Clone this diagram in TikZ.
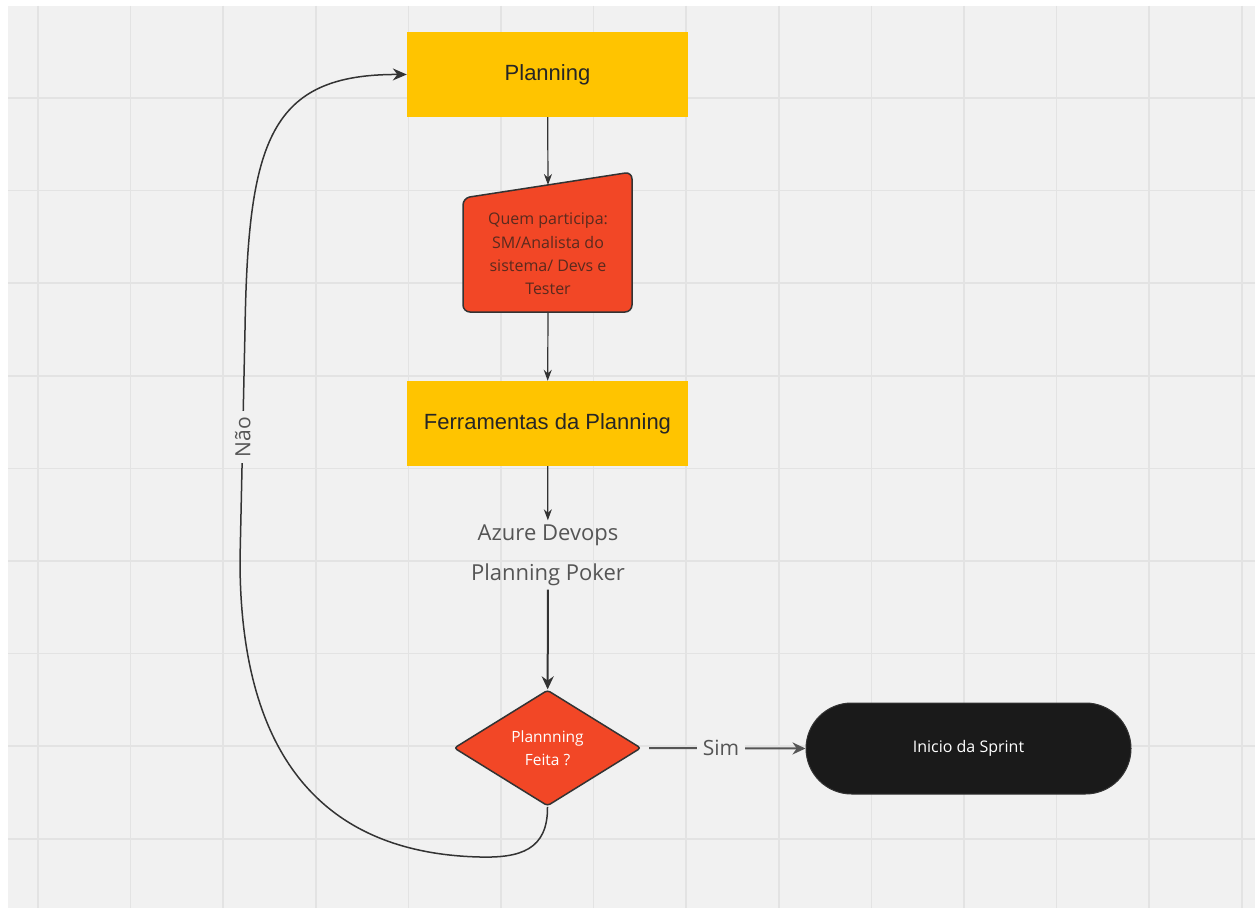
\documentclass[tikz,border=0pt]{standalone}
\usepackage{fontspec}
\setmainfont{Open Sans}
\newfontfamily\arialf{Liberation Sans}
\usetikzlibrary{arrows.meta,shapes.geometric}
\definecolor{bgc}{HTML}{F1F1F1}
\definecolor{gridc}{HTML}{E3E3E3}
\definecolor{gold}{HTML}{FFC400}
\definecolor{redo}{HTML}{F24726}
\definecolor{ink}{HTML}{333333}
\definecolor{greytxt}{HTML}{555555}
\definecolor{termc}{HTML}{1A1A1A}
\definecolor{brtxt}{HTML}{5A2A1E}
\tikzset{
  ybox/.style={rectangle, fill=gold, minimum width=281pt, minimum height=85pt, inner sep=0pt,
    font=\arialf\fontsize{22}{26}\selectfont, text=black!85},
  conn/.style={draw=ink, line width=1.2pt, -{Stealth[length=11pt,width=8pt]}},
  connb/.style={draw=ink, line width=2pt, -{Stealth[length=13pt,width=12pt]}},
  simc/.style={draw=greytxt, line width=2pt, -{Stealth[length=13pt,width=12pt]}},
  loopc/.style={draw=ink, line width=1.5pt, -{Stealth[length=14pt,width=12pt]}},
  lbl/.style={fill=bgc, text=greytxt, font=\fontsize{21}{24}\selectfont, inner sep=6pt},
}
\begin{document}
\begin{tikzpicture}[x=1pt,y=-1pt]
\useasboundingbox (0,0) rectangle (1255,909);
\fill[white] (0,0) rectangle (1255,909);
\fill[bgc] (8,6) rectangle (1255,908);
\foreach \i in {0,...,13} \draw[gridc,line width=1.5pt] ({38+92.6*\i},6) -- ({38+92.6*\i},908);
\foreach \j in {0,...,8} \draw[gridc,line width=1.5pt] (8,{98+92.6*\j}) -- (1255,{98+92.6*\j});

% nodes
\node[ybox] (plan) at (547.5,74.5) {Planning};

\filldraw[fill=redo, draw=ink, line width=1.5pt, rounded corners=7pt]
  (548,312) -- (463,312) -- (463,198) -- (632,172) -- (632,312) -- cycle;
\node[align=center, text=brtxt, font=\fontsize{16}{23.4}\selectfont] (who) at (548,254)
  {Quem participa:\\SM/Analista do\\sistema/ Devs e\\Tester};
\coordinate (whoTop) at (548,185);
\coordinate (whoBot) at (548,312);

\node[ybox] (ferr) at (547.5,423.5) {Ferramentas da Planning};

\node[align=center, text=greytxt, font=\fontsize{22}{40}\selectfont, inner sep=4pt] (tools) at (548,555)
  {Azure Devops\\Planning Poker};

\node[diamond, fill=redo, draw=ink, line width=1.5pt, rounded corners=3pt, minimum width=187pt,
  minimum height=116pt, inner sep=0pt, aspect=1.6, align=center, text=white,
  font=\fontsize{15.5}{23}\selectfont] (dec) at (547.5,748) {Plannning\\Feita ?};

\node[rectangle, rounded corners=45.5pt, fill=termc, draw=ink, line width=1pt, minimum width=325pt,
  minimum height=91pt, text=white, font=\fontsize{16}{20}\selectfont] (sprint) at (968.5,748.5)
  {Inicio da Sprint};

\coordinate (simS) at (649,748);

% connectors
\draw[conn] (plan) -- (whoTop);
\draw[conn] (whoBot) -- (ferr);
\draw[conn] (ferr) -- (tools);
\draw[connb] (tools) -- (dec);
\draw[simc] (simS) -- node[lbl, pos=0.46] {Sim} (sprint.west);
\draw[loopc] (dec.south) .. controls (548,850) and (520,858) .. (480,857)
  .. controls (310,853) and (240,740) .. (240,560)
  -- node[lbl, pos=0.535, rotate=90] {Não} (245,330)
  .. controls (248,140) and (270,74) .. (plan.west);
\end{tikzpicture}
\end{document}
